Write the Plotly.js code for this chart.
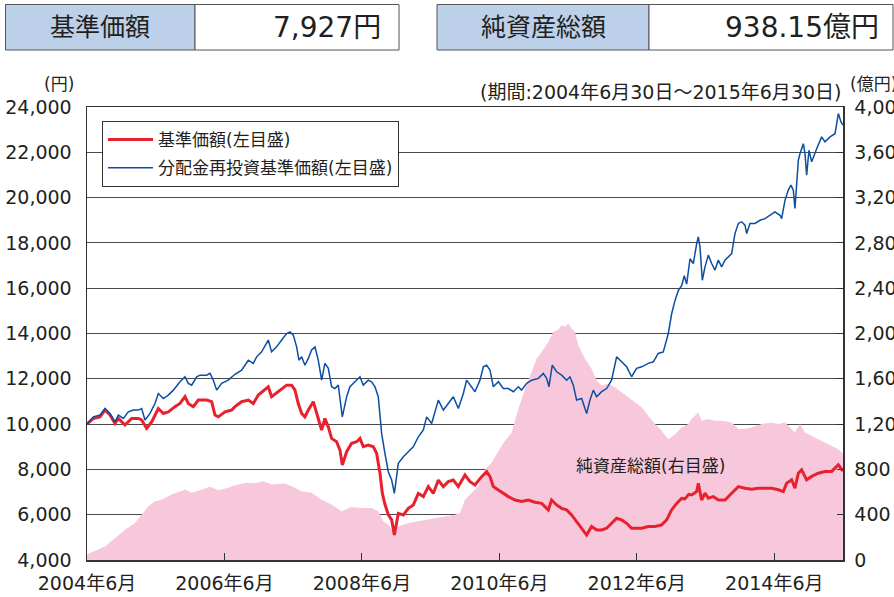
<!DOCTYPE html>
<html>
<head>
<meta charset="utf-8">
<script src="https://cdn.plot.ly/plotly-3.0.1.min.js"></script>
<style>
html,body{margin:0;padding:0;background:#fff;}
#chart{width:894px;height:597px;}
</style>
</head>
<body>
<div id="chart"></div>
<script>
// ---- data (x in decimal years) ----
const redYears = [2004.495,2004.587,2004.684,2004.757,2004.830,2004.902,2004.951,2005.048,2005.145,2005.242,2005.290,2005.363,2005.436,2005.533,2005.606,2005.678,2005.775,2005.848,2005.921,2005.969,2006.042,2006.115,2006.236,2006.309,2006.357,2006.406,2006.503,2006.600,2006.648,2006.745,2006.842,2006.915,2006.987,2007.084,2007.133,2007.181,2007.278,2007.400,2007.472,2007.521,2007.569,2007.618,2007.666,2007.715,2007.788,2007.836,2007.909,2007.957,2008.006,2008.054,2008.127,2008.176,2008.210,2008.273,2008.345,2008.418,2008.467,2008.515,2008.588,2008.661,2008.709,2008.758,2008.792,2008.831,2008.879,2008.928,2008.967,2009.025,2009.098,2009.170,2009.243,2009.316,2009.389,2009.461,2009.534,2009.607,2009.680,2009.752,2009.825,2009.898,2009.995,2010.068,2010.140,2010.237,2010.310,2010.359,2010.407,2010.480,2010.553,2010.625,2010.722,2010.819,2010.916,2011.013,2011.110,2011.207,2011.255,2011.328,2011.401,2011.474,2011.546,2011.619,2011.692,2011.765,2011.837,2011.910,2011.983,2012.056,2012.128,2012.201,2012.274,2012.347,2012.419,2012.492,2012.565,2012.662,2012.759,2012.856,2012.929,2013.001,2013.074,2013.147,2013.196,2013.250,2013.293,2013.366,2013.390,2013.438,2013.487,2013.535,2013.608,2013.681,2013.778,2013.875,2013.972,2014.069,2014.166,2014.263,2014.360,2014.457,2014.554,2014.627,2014.675,2014.748,2014.796,2014.845,2014.893,2014.966,2015.039,2015.136,2015.233,2015.330,2015.427,2015.495];
const redValues = [10000,10250,10320,10620,10400,10030,10250,9960,10250,10250,10180,9810,10100,10690,10470,10540,10770,10910,11210,10910,10770,11060,11060,10990,10400,10320,10540,10620,10770,10990,11060,10910,11280,11500,11650,11210,11430,11720,11720,11500,10910,10470,10320,10620,10990,10470,9740,10250,9880,9370,9220,8850,8190,8780,9150,9220,9370,9000,9070,9000,8710,7830,6950,6450,6000,5770,5100,6060,5990,6280,6430,6940,6800,7240,6940,7530,7240,7460,7530,7240,7750,7460,7310,7680,7900,7680,7240,7090,6940,6800,6650,6580,6650,6550,6500,6210,6650,6430,6280,6210,5990,5700,5400,5100,5480,5330,5330,5400,5620,5840,5770,5620,5400,5400,5400,5480,5480,5550,5770,6210,6500,6720,6700,6900,6870,7020,7390,6650,6950,6730,6800,6650,6650,6950,7240,7170,7120,7170,7170,7170,7100,7020,7390,7540,7170,7830,7980,7540,7690,7830,7910,7910,8200,7927];

const blueYears = [2004.495,2004.587,2004.684,2004.757,2004.830,2004.902,2004.951,2005.024,2005.096,2005.169,2005.242,2005.290,2005.339,2005.412,2005.484,2005.533,2005.606,2005.678,2005.751,2005.848,2005.921,2005.969,2006.018,2006.091,2006.139,2006.236,2006.285,2006.333,2006.382,2006.454,2006.551,2006.648,2006.745,2006.842,2006.915,2006.963,2007.036,2007.109,2007.133,2007.181,2007.254,2007.327,2007.400,2007.448,2007.497,2007.545,2007.579,2007.618,2007.666,2007.715,2007.763,2007.812,2007.860,2007.909,2007.957,2008.006,2008.054,2008.103,2008.151,2008.210,2008.273,2008.321,2008.394,2008.467,2008.515,2008.588,2008.636,2008.685,2008.733,2008.782,2008.830,2008.879,2008.928,2008.967,2009.025,2009.098,2009.170,2009.243,2009.316,2009.389,2009.437,2009.510,2009.607,2009.680,2009.752,2009.825,2009.898,2009.971,2010.019,2010.092,2010.140,2010.213,2010.262,2010.310,2010.359,2010.407,2010.480,2010.553,2010.625,2010.698,2010.771,2010.819,2010.892,2010.965,2011.062,2011.134,2011.183,2011.217,2011.265,2011.328,2011.401,2011.474,2011.522,2011.571,2011.619,2011.692,2011.765,2011.813,2011.862,2011.910,2011.983,2012.056,2012.128,2012.201,2012.274,2012.347,2012.419,2012.492,2012.565,2012.662,2012.735,2012.807,2012.880,2012.953,2013.001,2013.050,2013.098,2013.147,2013.186,2013.220,2013.269,2013.317,2013.366,2013.390,2013.414,2013.448,2013.487,2013.535,2013.584,2013.632,2013.681,2013.729,2013.778,2013.826,2013.875,2013.923,2013.972,2014.020,2014.069,2014.093,2014.142,2014.214,2014.287,2014.360,2014.433,2014.505,2014.578,2014.602,2014.651,2014.699,2014.738,2014.772,2014.796,2014.821,2014.845,2014.869,2014.918,2014.942,2014.966,2015.000,2015.039,2015.112,2015.185,2015.233,2015.306,2015.379,2015.427,2015.466,2015.495];
const blueValues = [10000,10320,10400,10690,10470,10100,10400,10250,10540,10620,10620,10690,10180,10470,10910,11350,11130,11280,11500,11870,12090,11800,11720,12090,12160,12160,12240,11940,11500,11800,11940,12200,12380,12820,12680,12970,13190,13560,13710,13190,13410,13710,14000,14070,13930,13410,12820,12970,12600,12900,13270,13410,12820,11940,12680,12460,11650,11570,11720,10320,11210,11650,11870,12090,11720,11940,11870,11650,11210,9590,8710,7900,7530,6940,8270,8560,8780,9000,9440,9740,10320,10030,11060,10620,10910,11210,10690,11350,11940,11650,11430,11940,12530,12600,12380,11650,11870,11570,11570,11430,11650,11500,11800,11940,12020,12240,12020,11650,12600,12310,12160,11940,12090,11720,11060,11130,10470,11060,11500,11210,11430,11570,11940,12970,12750,12530,12090,12460,12530,12680,12750,13120,13190,14000,14860,15450,15890,16110,16550,16180,17300,17090,17970,18270,17820,16350,16940,17460,17090,16800,17240,16940,17240,17380,17530,18410,18860,18930,18780,18410,18860,18860,19000,19070,19220,19370,19220,19070,19880,20330,20550,20330,19520,20470,21650,21940,22380,21940,20990,22090,21580,22160,22680,22460,22680,22820,23710,23340,23200];

const aumYears = [2004.495,2004.611,2004.757,2004.902,2005.048,2005.193,2005.315,2005.387,2005.484,2005.581,2005.727,2005.872,2005.921,2006.018,2006.163,2006.285,2006.406,2006.551,2006.648,2006.793,2006.939,2007.060,2007.181,2007.375,2007.521,2007.618,2007.763,2007.909,2008.054,2008.200,2008.345,2008.491,2008.636,2008.733,2008.806,2008.879,2008.928,2009.025,2009.170,2009.316,2009.461,2009.607,2009.752,2009.849,2009.922,2009.995,2010.092,2010.189,2010.286,2010.383,2010.480,2010.577,2010.674,2010.771,2010.868,2010.965,2011.037,2011.110,2011.207,2011.280,2011.352,2011.401,2011.449,2011.498,2011.546,2011.595,2011.643,2011.740,2011.837,2011.910,2011.983,2012.080,2012.177,2012.274,2012.371,2012.468,2012.565,2012.662,2012.759,2012.856,2012.953,2013.050,2013.147,2013.244,2013.293,2013.366,2013.390,2013.438,2013.535,2013.632,2013.729,2013.875,2013.972,2014.069,2014.166,2014.311,2014.457,2014.554,2014.651,2014.748,2014.796,2014.869,2014.942,2015.039,2015.136,2015.233,2015.330,2015.427,2015.495];
const aumValues = [50,83,119,193,267,326,415,474,519,533,578,616,622,593,622,646,616,637,660,681,681,696,667,676,637,607,593,533,489,430,468,459,459,430,341,311,267,296,326,341,356,370,385,400,415,533,593,652,800,859,963,1052,1126,1333,1511,1659,1778,1837,1926,2015,2030,2074,2059,2089,2044,2015,1896,1778,1689,1585,1541,1556,1526,1481,1437,1393,1348,1274,1200,1141,1067,1111,1170,1200,1244,1289,1304,1230,1244,1230,1230,1215,1156,1156,1170,1200,1215,1200,1215,1156,1126,1200,1126,1096,1067,1037,1007,978,938];

const xTickVals = [2004.495,2006.495,2008.495,2010.495,2012.495,2014.495];
const xTickText = ['2004年6月','2006年6月','2008年6月','2010年6月','2012年6月','2014年6月'];
const leftTicks = [4000,6000,8000,10000,12000,14000,16000,18000,20000,22000,24000];
const rightTicks = [0,400,800,1200,1600,2000,2400,2800,3200,3600,4000];

const seriesNames = ['基準価額(左目盛)','分配金再投資基準価額(左目盛)'];
const headerLabels = ['基準価額','純資産総額'];
const headerValues = ['7,927円','938.15億円'];

// ---- layout helpers (pixel -> paper) ----
const PL=87, PR=843, PT=107, PB=560;
const px = x => (x-PL)/(PR-PL);
const py = y => (PB-y)/(PB-PT);

const FONT = 'DejaVu Sans, Noto Sans CJK JP, sans-serif';
const TXT = '#231f20';

const traces = [
  {x: aumYears, y: aumValues, yaxis:'y', type:'scatter', mode:'lines',
   line:{width:0, color:'#f7c8dc'}, fill:'tozeroy', fillcolor:'#f7c8dc',
   showlegend:false, hoverinfo:'skip'},
  {x: redYears, y: redValues, yaxis:'y2', type:'scatter', mode:'lines', name: seriesNames[0],
   line:{color:'#e8212e', width:3}, legendgroup:'a'},
  {x: blueYears, y: blueValues, yaxis:'y2', type:'scatter', mode:'lines', name: seriesNames[1],
   line:{color:'#0b4ea2', width:1.5}, legendgroup:'b'}
];

const shapes = [
  {type:'rect', xref:'paper', yref:'paper', x0:px(5.5), x1:px(195), y0:py(50), y1:py(4.5), fillcolor:'#bcd0ea', line:{color:'#555', width:1}, layer:'above'},
  {type:'rect', xref:'paper', yref:'paper', x0:px(195), x1:px(399), y0:py(50), y1:py(4.5), fillcolor:'#ffffff', line:{color:'#555', width:1}, layer:'above'},
  {type:'rect', xref:'paper', yref:'paper', x0:px(437), x1:px(649), y0:py(50), y1:py(4.5), fillcolor:'#bcd0ea', line:{color:'#555', width:1}, layer:'above'},
  {type:'rect', xref:'paper', yref:'paper', x0:px(649), x1:px(893), y0:py(50), y1:py(4.5), fillcolor:'#ffffff', line:{color:'#555', width:1}, layer:'above'}
];

const ann = (text, x, y, xanchor, size) => ({text, xref:'paper', yref:'paper', x:px(x), y:py(y),
  xanchor, yanchor:'middle', showarrow:false, font:{family:FONT, size, color:TXT}});

const annotations = [
  ann(headerLabels[0], 100, 27, 'center', 25),
  ann(headerValues[0], 383, 27, 'right', 28),
  ann(headerLabels[1], 543, 27, 'center', 25),
  ann(headerValues[1], 881, 27, 'right', 28),
  ann('(円)', 76, 84, 'right', 17),
  ann('(期間:2004年6月30日～2015年6月30日)', 843, 92, 'right', 19),
  ann('(億円)', 848, 84, 'left', 17),
  ann('純資産総額(右目盛)', 650, 466, 'center', 17)
];

const layout = {
  width:894, height:597,
  margin:{l:PL, r:894-PR, t:PT, b:597-PB, pad:0},
  paper_bgcolor:'#fff', plot_bgcolor:'#fff',
  font:{family:FONT, color:TXT},
  showlegend:true,
  legend:{x:px(102), y:py(121), xanchor:'left', yanchor:'top',
    bgcolor:'#fff', bordercolor:'#333', borderwidth:1,
    font:{family:FONT, size:17, color:TXT}, traceorder:'grouped', tracegroupgap:3,
    itemwidth:45},
  xaxis:{type:'linear', range:[2004.495, 2015.495], tickvals:xTickVals, ticktext:xTickText,
    ticks:'inside', ticklen:7, tickcolor:'#333', tickwidth:1,
    showline:true, linecolor:'#333', linewidth:1.5, mirror:true,
    showgrid:false, zeroline:false, tickfont:{size:19, family:FONT, color:TXT}, ticklabelstandoff:6},
  yaxis:{side:'right', range:[0,4000], tickvals:rightTicks, tickformat:',d',
    showgrid:false, zeroline:false, showline:true, linecolor:'#333', linewidth:1.5,
    ticks:'inside', ticklen:6, tickcolor:'#333',
    tickfont:{size:19, family:FONT, color:TXT}, ticklabelstandoff:6},
  yaxis2:{overlaying:'y', side:'left', range:[4000,24000], tickvals:leftTicks, tickformat:',d',
    showgrid:true, gridcolor:'#4a4a4a', gridwidth:1, zeroline:false,
    showline:true, linecolor:'#333', linewidth:1.5, ticks:'',
    tickfont:{size:19, family:FONT, color:TXT}, ticklabelstandoff:10},
  shapes, annotations
};

Plotly.newPlot('chart', traces, layout, {staticPlot:true, displayModeBar:false});
</script>
</body>
</html>
